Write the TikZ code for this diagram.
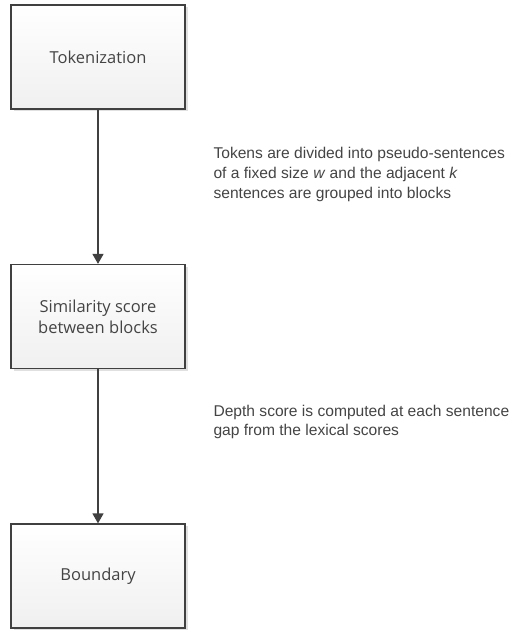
\documentclass[tikz,border=0pt]{standalone}
\usepackage{fontspec}
\setmainfont{Liberation Sans}
\newfontfamily\boxfont{Open Sans}
\usetikzlibrary{arrows.meta,shadows}
\definecolor{edgegrey}{HTML}{404040}
\definecolor{textgrey}{HTML}{444444}
\tikzset{
  stage/.style={draw=edgegrey, line width=1.2pt, top color=white, bottom color=black!6,
    minimum width=174pt, minimum height=104pt, align=center, text=textgrey,
    font=\boxfont\fontsize{16.5}{21}\selectfont,
    drop shadow={shadow xshift=3pt, shadow yshift=-2pt, fill=black!12, opacity=1}},
  note/.style={anchor=west, align=left, text=textgrey, font=\fontsize{15.6}{19.6}\selectfont},
  flow/.style={draw=edgegrey, line width=1.2pt, -{Triangle[length=10pt,width=11pt]}}
}
\begin{document}
\begin{tikzpicture}[x=1pt,y=-1pt]
      \useasboundingbox (0,0) rectangle (510,630);
      \node[stage] (tok) at (98,57) {Tokenization};
      \node[stage] (sim) at (98,316.5) {Similarity score\\between blocks};
      \node[stage] (bound) at (98,576) {Boundary};
      \draw[flow] (tok) -- (sim);
      \draw[flow] (sim) -- (bound);
      \node[note] (divide) at (210,174.5) {Tokens are divided into pseudo-sentences\\of a fixed size \textit{w} and the adjacent \textit{k}\\sentences are grouped into blocks};
      \node[note] (depth) at (210,422) {Depth score is computed at each sentence\\gap from the lexical scores};
    \end{tikzpicture}
\end{document}
